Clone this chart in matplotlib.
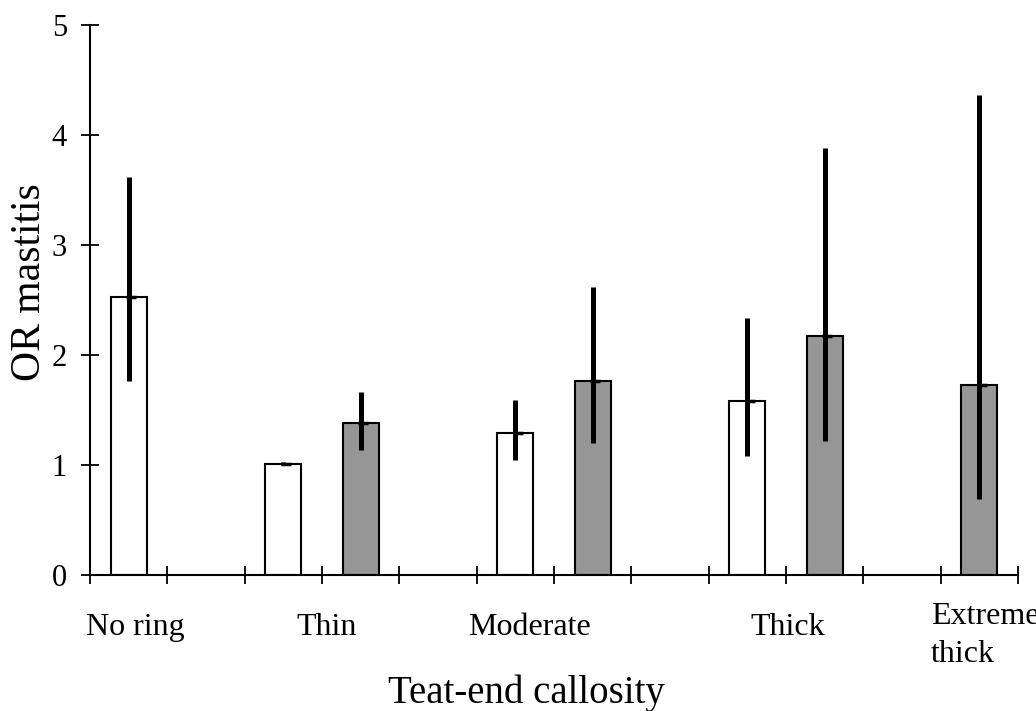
import matplotlib
matplotlib.use("Agg")
import matplotlib.pyplot as plt
import matplotlib.transforms as mtransforms

# odds ratios (12 slots on the x axis, pairs per callosity class)
white_slots = [0, 2, 5, 8]
white_or = [2.53, 1.01, 1.29, 1.58]
white_lo = [1.76, 1.00, 1.05, 1.08]
white_hi = [3.62, 1.03, 1.59, 2.34]

grey_slots = [3, 6, 9, 11]
grey_or = [1.38, 1.76, 2.17, 1.73]
grey_lo = [1.14, 1.20, 1.22, 0.69]
grey_hi = [1.66, 2.62, 3.88, 4.36]

class_labels = ["No ring", "Thin", "Moderate", "Thick", "Extreme\nthick"]
label_x = [0.59, 3.06, 5.68, 9.02, 10.875]
label_ha = ["center", "center", "center", "center", "left"]

plt.rcParams["font.family"] = ["Liberation Serif", "DejaVu Serif"]

fig = plt.figure(figsize=(10.36, 7.11), dpi=100)
ax = fig.add_axes([90 / 1036, 136 / 711, 928 / 1036, 550 / 711])

width = 0.465
for slots, vals, lo, hi, color in [
    (white_slots, white_or, white_lo, white_hi, "white"),
    (grey_slots, grey_or, grey_lo, grey_hi, "#969696"),
]:
    xs = [s + 0.5 for s in slots]
    ax.bar(xs, vals, width=width, color=color, edgecolor="black", linewidth=1.5, zorder=2)
    err = [[v - l for v, l in zip(vals, lo)], [h - v for v, h in zip(vals, hi)]]
    ax.errorbar(xs, vals, yerr=err, fmt="none", ecolor="black", elinewidth=3.6,
                capsize=0, zorder=3)
    ax.plot([x + 0.03 for x in xs], vals, linestyle="none", marker="_", color="black",
            markersize=7, markeredgewidth=2.5, zorder=4)

ax.set_xlim(0, 12)
ax.set_ylim(0, 5)
ax.set_xticks(range(13))
ax.set_xticklabels([])
ax.set_yticks(range(6))
ax.tick_params(axis="both", direction="inout", length=13, width=1.3, color="black")
ax.tick_params(axis="y", labelsize=22, pad=10)
ax.spines["top"].set_visible(False)
ax.spines["right"].set_visible(False)
ax.spines["left"].set_linewidth(1.5)
ax.spines["bottom"].set_linewidth(1.5)
ax.set_facecolor("none")

# category names sit under the axis, not on the tick positions
trans = mtransforms.blended_transform_factory(ax.transData, fig.transFigure)
for lab, x, ha in zip(class_labels, label_x, label_ha):
    lines = lab.split("\n")
    base = 635 if len(lines) == 1 else 624
    for i, line in enumerate(lines):
        ax.text(x, (711 - base - i * 38) / 711, line, transform=trans, ha=ha,
                va="baseline", fontsize=23, clip_on=False)

fig.text(526 / 1036, 8 / 711, "Teat-end callosity", ha="center", va="baseline", fontsize=28)
fig.text(10 / 1036, (711 - 282) / 711, "OR mastitis", rotation=90, ha="left", va="center",
         fontsize=30)

fig.savefig("out.png", dpi=100)
